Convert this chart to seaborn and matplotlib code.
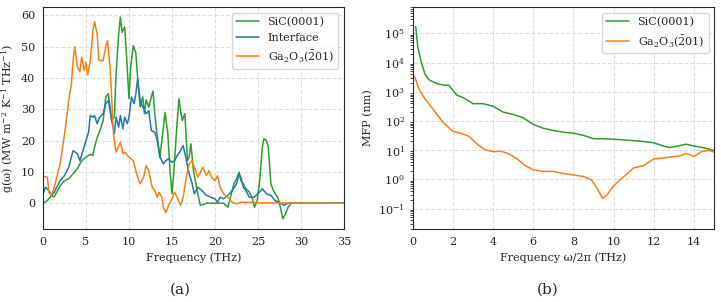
import numpy as np
import pandas as pd
import matplotlib
matplotlib.use("Agg")
import matplotlib.pyplot as plt
import seaborn as sns

# (a) spectral heat flux
sic_f = [0, 0.5, 1.0, 1.3, 1.6, 2.0, 2.5, 3.0, 3.5, 4.0, 4.3, 4.6, 5.0, 5.5, 5.8, 6.0, 6.3, 6.6,
         7.0, 7.3, 7.6, 7.8, 8.0, 8.3, 8.5, 8.8, 9.0, 9.2, 9.5, 9.7, 10.0, 10.2, 10.5, 10.8, 11.0,
         11.3, 11.6, 11.8, 12.0, 12.3, 12.6, 12.8, 13.0, 13.3, 13.6, 14.0, 14.2, 14.5, 14.8, 15.0,
         15.2, 15.5, 15.8, 16.0, 16.2, 16.5, 16.8, 17.0, 17.2, 17.5, 18.0, 18.3, 18.7, 19.0, 21.0,
         21.5, 21.8, 22.2, 22.5, 22.8, 23.0, 23.3, 23.6, 24.0, 24.3, 24.6, 24.9, 25.2, 25.5, 25.7,
         26.0, 26.2, 26.5, 26.8, 27.0, 27.3, 27.6, 27.9, 28.2, 28.5, 28.8, 29.0, 35.0]
sic_g = [0, 0.8, 2.5, 2.0, 3.5, 5.6, 7.2, 7.8, 9.4, 11.0, 12.6, 13.8, 14.7, 15.6, 15.2, 17.9, 21.0, 23.0,
         26.4, 34.0, 35.0, 30.7, 26.4, 27.5, 41.4, 54.0, 59.5, 54.6, 56.3, 48.0, 33.4, 43.5, 50.4, 48.0, 40.3,
         30.7, 34.0, 28.6, 33.0, 30.7, 34.0, 35.8, 28.6, 21.0, 14.7, 24.3, 29.0, 22.6, 9.4, 3.0,
         9.4, 22.0, 33.4, 29.6, 26.4, 28.6, 13.6, 14.7, 19.0, 10.4, 3.0, -0.7, -0.4, 0, 0,
         -1.3, 1.9, 6.2, 7.8, 9.9, 7.2, 6.2, 4.6, 3.5, 1.9, -1.3, 0.8, 7.2, 17.9, 20.6,
         20.0, 17.9, 6.2, 4.0, 3.0, 1.9, -1.3, -5.0, -3.4, -1.3, -0.2, 0, 0]

int_f = [0, 0.3, 0.7, 1.0, 1.3, 1.7, 2.0, 2.5, 3.0, 3.3, 3.5, 4.0, 4.3, 4.6, 5.0, 5.3, 5.5, 5.8,
         6.0, 6.3, 6.6, 7.0, 7.3, 7.6, 7.8, 8.0, 8.3, 8.5, 8.8, 9.0, 9.3, 9.5, 9.8, 10.0, 10.3,
         10.6, 10.8, 11.0, 11.3, 11.6, 12.0, 12.3, 12.6, 13.0, 13.3, 13.6, 14.0, 14.3, 14.6, 15.0,
         15.3, 15.6, 16.0, 16.3, 16.6, 17.0, 17.3, 17.6, 18.0, 18.5, 19.0, 19.5, 20.0, 20.3, 20.6,
         21.0, 21.5, 22.0, 22.5, 22.8, 23.0, 23.3, 23.6, 24.0, 24.5, 25.0, 25.5, 26.0, 26.5, 27.0,
         27.5, 28.0, 28.5, 35.0]
int_g = [3.0, 5.1, 4.0, 2.5, 3.5, 5.6, 7.2, 8.8, 11.5, 14.7, 16.8, 15.8, 13.6, 16.3, 20.0, 22.7, 28.0, 27.5,
         28.0, 25.4, 27.5, 28.6, 31.8, 32.8, 29.6, 26.4, 22.2, 27.5, 24.3, 28.0, 23.8, 27.5, 25.4, 27.5, 33.9,
         31.8, 35.0, 39.8, 32.8, 30.7, 28.6, 29.6, 23.2, 22.7, 20.0, 14.7, 12.6, 13.6, 14.2, 13.1,
         13.6, 15.2, 16.8, 18.4, 14.7, 9.4, 6.7, 3.0, 5.1, 4.0, 2.5, 1.9, 1.4, 0.3, 1.9,
         1.4, 2.5, 4.0, 6.2, 9.4, 8.3, 5.1, 4.0, 1.9, 1.9, 3.0, 4.6, 3.0, 2.5, 0.8,
         0.3, -0.7, 0, 0]

ga_f = [0, 0.5, 0.7, 1.0, 1.3, 1.7, 2.0, 2.3, 2.6, 3.0, 3.3, 3.5, 3.7, 4.0, 4.3, 4.5, 4.8, 5.0,
        5.2, 5.5, 5.8, 6.0, 6.3, 6.5, 7.0, 7.3, 7.5, 7.8, 8.0, 8.2, 8.5, 9.0, 9.3, 9.5, 10.0,
        10.5, 11.0, 11.3, 11.7, 12.0, 12.3, 12.7, 13.0, 13.3, 13.5, 13.8, 14.0, 14.3, 14.6, 15.0,
        15.3, 15.6, 16.0, 16.3, 16.6, 17.0, 17.3, 17.6, 18.0, 18.3, 18.6, 19.0, 19.3, 19.6, 20.0,
        20.3, 20.6, 21.0, 21.5, 22.0, 22.5, 23.0, 24.0, 25.0, 35.0]
ga_g = [8.6, 8.3, 3.5, 2.5, 5.0, 9.4, 12.6, 18.0, 24.0, 33.0, 38.0, 45.6, 50.0, 43.5, 42.0, 46.7, 42.4, 45.0,
        41.0, 45.6, 55.0, 58.0, 54.0, 45.6, 45.6, 50.0, 52.0, 43.5, 33.0, 22.0, 16.3, 19.5, 15.8, 16.3, 14.7,
        13.6, 8.3, 6.2, 8.3, 12.0, 10.4, 5.1, 4.0, 1.9, 3.5, 1.9, -1.3, -3.0, -0.7, 1.4,
        3.5, 1.9, -0.7, 1.9, 7.2, 12.6, 13.6, 11.5, 8.3, 9.9, 11.5, 8.8, 10.4, 8.3, 7.2,
        8.8, 5.1, 3.0, 1.9, 0.3, -0.2, 0.3, 0.3, 0.1, 0]

# (b) mean free path
mfp_sic_f = [0.15, 0.25, 0.4, 0.6, 0.8, 1.0, 1.3, 1.6, 1.8, 2.0, 2.2, 2.5, 2.8, 3.0, 3.5, 4.0, 4.5, 5.0,
             5.5, 6.0, 6.5, 7.0, 7.5, 8.0, 8.5, 9.0, 9.5, 10.0, 10.5, 11.0, 11.5, 12.0, 12.5, 12.8,
             13.2, 13.6, 14.0, 14.5, 15.0]
mfp_sic = [1.7e5, 3.5e4, 1.2e4, 4200, 2600, 2200, 1800, 1670, 1670, 1120, 760, 630, 480, 390, 390, 316, 200, 166,
           128, 76, 56, 47, 41, 38, 32, 24.5, 24.5, 23.6, 22.4, 21, 19.7, 17.8, 13.6, 12.3,
           13.8, 15.9, 13.8, 12, 9.7]

mfp_ga_f = [0.0, 0.1, 0.3, 0.6, 1.0, 1.5, 2.0, 2.5, 2.8, 3.2, 3.6, 4.0, 4.4, 4.8, 5.2, 5.6, 6.0, 6.5,
            7.0, 7.5, 8.0, 8.5, 8.9, 9.2, 9.45, 9.7, 10.0, 10.5, 11.0, 11.5, 12.0, 12.5, 13.0, 13.3,
            13.6, 14.0, 14.4, 14.8, 15.0]
mfp_ga = [3700, 3200, 1300, 580, 260, 91, 44, 36, 29.5, 16.4, 10.2, 8.9, 9.1, 7.4, 5.0, 2.95, 2.1, 1.87,
          1.87, 1.58, 1.40, 1.25, 0.95, 0.47, 0.22, 0.31, 0.6, 1.23, 2.45, 2.95, 5.0, 5.4, 6.0, 6.3,
          7.7, 6.0, 9.1, 9.7, 8.5]

green, blue, orange = "#2ca02c", "#1f77b4", "#ff7f0e"
ga_label = r"Ga$_2$O$_3$($\bar{2}$01)"

sns.set_style("whitegrid", {"grid.linestyle": "--", "axes.edgecolor": "0.15", "grid.color": "0.87"})
plt.rcParams["font.family"] = ["DejaVu Serif"]
plt.rcParams["mathtext.fontset"] = "dejavuserif"
plt.rcParams["font.size"] = 8

fig = plt.figure(figsize=(7.21, 3.02), dpi=100)
ax1 = fig.add_axes([0.0596, 0.242, 0.4175, 0.735])
ax2 = fig.add_axes([0.5724, 0.242, 0.418, 0.735])

lw = 1.1
sns.lineplot(x=sic_f, y=sic_g, ax=ax1, color=green, lw=lw, label="SiC(0001)", sort=False, estimator=None)
sns.lineplot(x=int_f, y=int_g, ax=ax1, color=blue, lw=lw, label="Interface", sort=False, estimator=None)
sns.lineplot(x=ga_f, y=ga_g, ax=ax1, color=orange, lw=lw, label=ga_label, sort=False, estimator=None)
ax1.set_xlim(0, 35)
ax1.set_xticks(range(0, 36, 5))
ax1.set_yticks(range(0, 61, 10))
ax1.set_xlabel("Frequency (THz)", fontsize=8)
ax1.set_ylabel(r"g(ω) (MW m$^{-2}$ K$^{-1}$ THz$^{-1}$)", fontsize=8)
ax1.tick_params(labelsize=8, pad=2)
ax1.legend(loc="upper right", fontsize=8)

sns.lineplot(x=mfp_sic_f, y=mfp_sic, ax=ax2, color=green, lw=lw, label="SiC(0001)", sort=False, estimator=None)
sns.lineplot(x=mfp_ga_f, y=mfp_ga, ax=ax2, color=orange, lw=lw, label=ga_label, sort=False, estimator=None)
ax2.set_yscale("log")
ax2.set_xlim(0, 15)
ax2.set_ylim(0.02, 8e5)
ax2.set_xticks(range(0, 15, 2))
ax2.set_yticks([1e-1, 1e0, 1e1, 1e2, 1e3, 1e4, 1e5])
ax2.set_xlabel("Frequency ω/2π (THz)", fontsize=8)
ax2.set_ylabel("MFP (nm)", fontsize=8)
ax2.tick_params(labelsize=8, pad=2)
ax2.tick_params(axis="y", which="minor", left=True, length=2, width=0.6, color="0.15")
ax2.legend(loc="upper right", fontsize=8)

fig.text(0.25, 0.04, "(a)", ha="center", va="center", fontsize=11)
fig.text(0.76, 0.04, "(b)", ha="center", va="center", fontsize=11)

fig.savefig("out.png", dpi=100)
